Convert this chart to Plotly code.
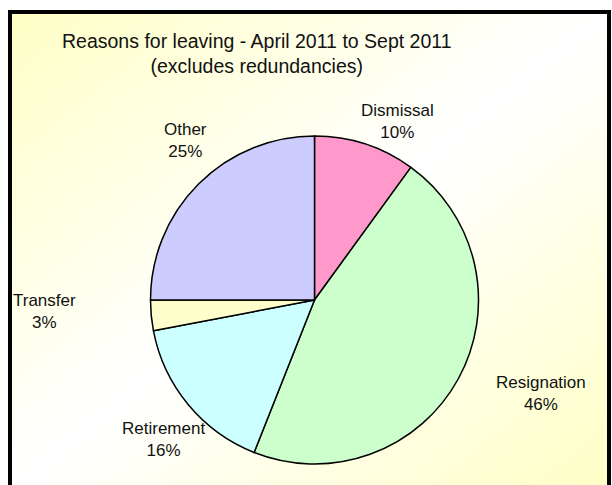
import base64
import plotly.graph_objects as go

# ---- data ----
categories = ["Dismissal", "Resignation", "Retirement", "Transfer", "Other"]
values = [10, 46, 16, 3, 25]
colors = ["#FF99CC", "#CCFFCC", "#CCFFFF", "#FFFFCC", "#CCCCFF"]
title_lines = ["Reasons for leaving - April 2011 to Sept 2011", "(excludes redundancies)"]

# label anchor positions in pixels (x from left, y from top)
label_pos = [(397, 121), (541, 393), (163, 439), (44, 311), (186, 140)]

W, H = 612, 485
cx, cy, r = 314.5, 300, 164

total = sum(values)

fig = go.Figure()
fig.add_trace(go.Pie(
    labels=categories,
    values=values,
    sort=False,
    direction="clockwise",
    rotation=0,
    marker=dict(colors=colors, line=dict(color="#000000", width=1.5)),
    textinfo="none",
    hoverinfo="label+percent",
    showlegend=False,
    domain=dict(x=[(cx - r) / W, (cx + r) / W], y=[(H - cy - r) / H, (H - cy + r) / H]),
))

annotations = []
for name, v, (px, py) in zip(categories, values, label_pos):
    annotations.append(dict(
        x=px / W, y=1 - py / H, xref="paper", yref="paper",
        text=f"{name}<br>{round(100 * v / total)}%",
        showarrow=False, xanchor="center", yanchor="middle",
        font=dict(family="Liberation Sans, Arial, sans-serif", size=17, color="#111111"),
    ))
annotations.append(dict(
    x=257 / W, y=1 - 53.5 / H, xref="paper", yref="paper",
    text="<br>".join(title_lines), showarrow=False, xanchor="center", yanchor="middle",
    font=dict(family="Liberation Sans, Arial, sans-serif", size=19.5, color="#111111"),
))

svg = ('<svg xmlns="http://www.w3.org/2000/svg" width="600" height="480" viewBox="0 0 600 480" preserveAspectRatio="none">'
       '<defs><linearGradient id="g" x1="0" y1="0" x2="1" y2="1">'
       '<stop offset="0" stop-color="#FFFFC6"/><stop offset="0.5" stop-color="#FFFFFF"/>'
       '<stop offset="1" stop-color="#FFFFC6"/></linearGradient></defs>'
       '<rect width="600" height="480" fill="url(#g)"/></svg>')
src = "data:image/svg+xml;base64," + base64.b64encode(svg.encode()).decode()

bx0, by0, bx1, by1 = 10, 12, 609, 490

fig.update_layout(
    width=W, height=H,
    margin=dict(l=0, r=0, t=0, b=0),
    paper_bgcolor="#FFFFFF",
    images=[dict(source=src, xref="paper", yref="paper",
                 x=bx0 / W, y=1 - by0 / H, sizex=(bx1 - bx0) / W, sizey=(by1 - by0) / H,
                 sizing="stretch", xanchor="left", yanchor="top", layer="below")],
    shapes=[dict(type="rect", xref="paper", yref="paper",
                 x0=bx0 / W, x1=bx1 / W, y0=1 - by1 / H, y1=1 - by0 / H,
                 line=dict(color="#000000", width=4))],
    annotations=annotations,
)

fig.write_html("out.html")
